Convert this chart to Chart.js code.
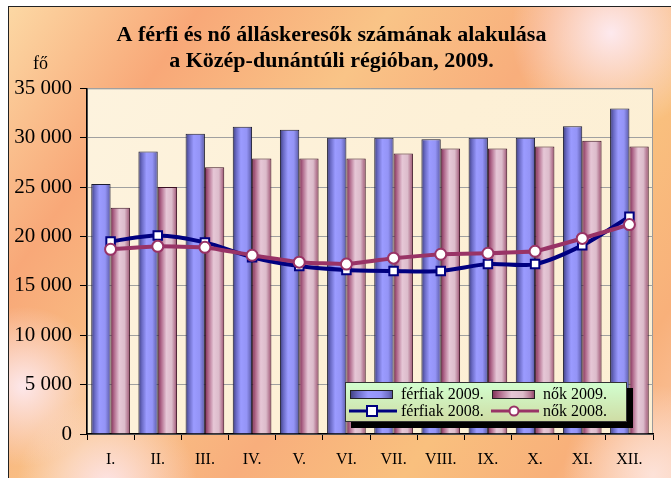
<!DOCTYPE html>
<html>
<head>
<meta charset="utf-8">
<script src="https://cdn.jsdelivr.net/npm/chart.js@4/dist/chart.umd.min.js"></script>
<style>
    html, body { margin: 0; padding: 0; background: #fff; }
    #wrap {
        position: relative;
        width: 671px;
        height: 478px;
        overflow: hidden;
    }
    #bg {
        position: absolute;
        left: 8px; top: 6px;
        width: 700px; height: 520px;
        border: 1.5px solid #222;
        background:
            radial-gradient(circle at 86% 5%, #fde9ee 0, rgba(253,233,238,0) 100px),
            radial-gradient(circle at 2% 73%, #fde7ea 0, rgba(253,231,234,0) 80px),
            radial-gradient(circle at 14% 92%, #fde4e6 0, rgba(253,228,230,0) 90px),
            radial-gradient(circle at 92% 90%, #fde2d8 0, rgba(253,226,216,0) 90px),
            linear-gradient(125deg, #fcd8a4 0%, #f8a878 18%, #f9c487 36%, #f8ae7c 52%, #f9c07e 68%, #f8b07a 82%, #fcd4bc 100%);
    }
    canvas { position: absolute; left: 0; top: 0; }
</style>
</head>
<body>
<div id="wrap">
    <div id="bg"></div>
    <canvas id="chart" width="671" height="478"></canvas>
</div>
<script>
// ===== Data =====
const months = ['I.', 'II.', 'III.', 'IV.', 'V.', 'VI.', 'VII.', 'VIII.', 'IX.', 'X.', 'XI.', 'XII.'];
const men2009 = [25300, 28600, 30400, 31100, 30800, 30000, 30000, 29850, 30000, 30000, 31150, 32950];
const women2009 = [22900, 25000, 27000, 27900, 27900, 27900, 28400, 28900, 28900, 29100, 29700, 29100];
const men2008 = [19500, 20100, 19400, 17900, 17000, 16600, 16500, 16500, 17200, 17200, 19100, 22000];
const women2008 = [18700, 19000, 18900, 18100, 17400, 17200, 17800, 18200, 18300, 18500, 19800, 21200];
const yTicks = [0, 5000, 10000, 15000, 20000, 25000, 30000, 35000];

const serif = "'Liberation Serif', 'Times New Roman', serif";
const catPct = 0.82;

const blueStops = [[0, '#3e3e7c'], [0.18, '#6a6ac4'], [0.42, '#9b9bff'], [0.72, '#9494f6'], [0.9, '#6e6ec2'], [1, '#4c4c94']];
const pinkStops = [[0, '#7c2c54'], [0.18, '#b0698b'], [0.45, '#e6c7d6'], [0.72, '#dcbccb'], [0.9, '#b47892'], [1, '#8a3d63']];

function makeGrad(c, x0, x1, stops) {
    const g = c.createLinearGradient(x0, 0, x1, 0);
    stops.forEach(s => g.addColorStop(s[0], s[1]));
    return g;
}

// gradient for each bar, side = -1 for left bar, 0 for right bar
function barFill(stops, side) {
    return ctx => {
        const chart = ctx.chart;
        const xs = chart.scales.x;
        if (!xs || ctx.dataIndex === undefined) return stops[2][1];
        const cw = xs.width / months.length;
        const bw = cw * catPct / 2;
        const cx = xs.getPixelForValue(ctx.dataIndex);
        const x0 = cx + side * bw;
        if (!isFinite(x0) || !isFinite(bw) || bw <= 0) return stops[2][1];
        return makeGrad(chart.ctx, x0, x0 + bw, stops);
    };
}

function fmt(v) {
    return String(v).replace(/\B(?=(\d{3})+(?!\d))/g, ' ');
}

// ===== Plot background =====
const plotBg = {
    id: 'plotBg',
    beforeDraw(chart) {
        const { ctx, chartArea: a } = chart;
        ctx.save();
        const g = ctx.createLinearGradient(a.left, a.top, a.right, a.bottom);
        g.addColorStop(0, '#fdf3de');
        g.addColorStop(0.5, '#fdf0d6');
        g.addColorStop(1, '#fcefd4');
        ctx.fillStyle = g;
        ctx.fillRect(a.left, a.top, a.right - a.left, a.bottom - a.top);
        ctx.strokeStyle = '#9a9a9a';
        ctx.lineWidth = 1;
        ctx.strokeRect(a.left + 0.5, a.top + 0.5, a.right - a.left - 1, a.bottom - a.top);
        ctx.restore();
    }
};

// ===== Unit label + legend box =====
const extras = {
    id: 'extras',
    afterDraw(chart) {
        const c = chart.ctx;
        c.save();
        c.fillStyle = '#000';
        c.font = '18px ' + serif;
        c.textBaseline = 'alphabetic';
        c.textAlign = 'left';
        c.fillText('fő', 33, 69);

        // legend
        const L = 345, T = 382, W = 282, H = 40;
        c.fillStyle = '#000';
        c.fillRect(L + 6, T + 6, W, H);
        const lg = c.createLinearGradient(0, T, 0, T + H);
        lg.addColorStop(0, '#d2ffd0');
        lg.addColorStop(1, '#cfdca4');
        c.fillStyle = lg;
        c.fillRect(L, T, W, H);
        c.strokeStyle = '#333';
        c.lineWidth = 1;
        c.strokeRect(L + 0.5, T + 0.5, W - 1, H - 1);

        const ds = chart.data.datasets;
        const cols = [350, 492];
        const rows = [394, 411];
        c.font = '16px ' + serif;
        c.textBaseline = 'middle';
        ds.forEach((d, i) => {
            const x = cols[i % 2];
            const y = rows[Math.floor(i / 2)];
            if (d.type === 'bar') {
                const stops = i === 0 ? blueStops : pinkStops;
                c.fillStyle = makeGrad(c, x, x + 43, stops);
                c.fillRect(x, y - 4, 43, 9);
                c.strokeStyle = '#222';
                c.lineWidth = 1;
                c.strokeRect(x + 0.5, y - 3.5, 42, 8);
            } else {
                c.strokeStyle = d.borderColor;
                c.lineWidth = 3;
                c.beginPath();
                c.moveTo(x - 1, y);
                c.lineTo(x + 47, y);
                c.stroke();
                c.fillStyle = '#fff';
                c.lineWidth = 2;
                if (d.pointStyle === 'rect') {
                    c.fillRect(x + 17, y - 5, 10, 10);
                    c.strokeRect(x + 17, y - 5, 10, 10);
                } else {
                    c.beginPath();
                    c.arc(x + 22, y, 4.5, 0, Math.PI * 2);
                    c.fill();
                    c.stroke();
                }
            }
            c.fillStyle = '#000';
            c.fillText(d.label, x + 51, y + 1);
        });
        c.restore();
    }
};

// ===== Chart =====
const chart = new Chart(document.getElementById('chart'), {
    data: {
        labels: months,
        datasets: [
            {
                type: 'bar', label: 'férfiak 2009.', data: men2009, order: 2,
                backgroundColor: barFill(blueStops, -1),
                borderColor: '#1c1c30', borderWidth: 1,
                categoryPercentage: catPct, barPercentage: 1
            },
            {
                type: 'bar', label: 'nők 2009.', data: women2009, order: 2,
                backgroundColor: barFill(pinkStops, 0),
                borderColor: '#3a1024', borderWidth: 1,
                categoryPercentage: catPct, barPercentage: 1
            },
            {
                type: 'line', label: 'férfiak 2008.', data: men2008, order: 1,
                borderColor: '#000080', borderWidth: 4, tension: 0.3,
                pointStyle: 'rect', pointRadius: 6, pointBorderWidth: 2,
                pointBackgroundColor: '#fff', pointBorderColor: '#000080'
            },
            {
                type: 'line', label: 'nők 2008.', data: women2008, order: 0,
                borderColor: '#993366', borderWidth: 4, tension: 0.1,
                pointStyle: 'circle', pointRadius: 5.5, pointBorderWidth: 2,
                pointBackgroundColor: '#fff', pointBorderColor: '#993366'
            }
        ]
    },
    options: {
        responsive: false,
        animation: false,
        layout: { padding: { left: 10, right: 18, top: 0, bottom: 0 } },
        plugins: {
            legend: { display: false },
            tooltip: { enabled: false },
            title: {
                display: true,
                text: ['A férfi és nő álláskeresők számának alakulása', 'a Közép-dunántúli régióban, 2009.'],
                color: '#000',
                font: { family: serif, size: 22, weight: 'bold', lineHeight: 1.2 },
                padding: { top: 22, bottom: 13.5 }
            }
        },
        scales: {
            x: {
                offset: true,
                grid: { offset: true, drawOnChartArea: false, drawTicks: true, tickLength: 6, tickColor: '#000' },
                border: { color: '#000', width: 1.5 },
                ticks: { color: '#000', font: { family: serif, size: 16 }, padding: 10, maxRotation: 0 },
                afterFit: s => { s.height = 44; }
            },
            y: {
                min: 0, max: 35000,
                afterBuildTicks: s => { s.ticks = yTicks.map(v => ({ value: v })); },
                grid: { color: '#a0a0a0', tickColor: '#000', tickLength: 7 },
                border: { color: '#000', width: 1.5 },
                ticks: { color: '#000', font: { family: serif, size: 21 }, padding: 8, callback: v => fmt(v) },
                afterFit: s => { s.width = 77; }
            }
        }
    },
    plugins: [plotBg, extras]
});
</script>
</body>
</html>
